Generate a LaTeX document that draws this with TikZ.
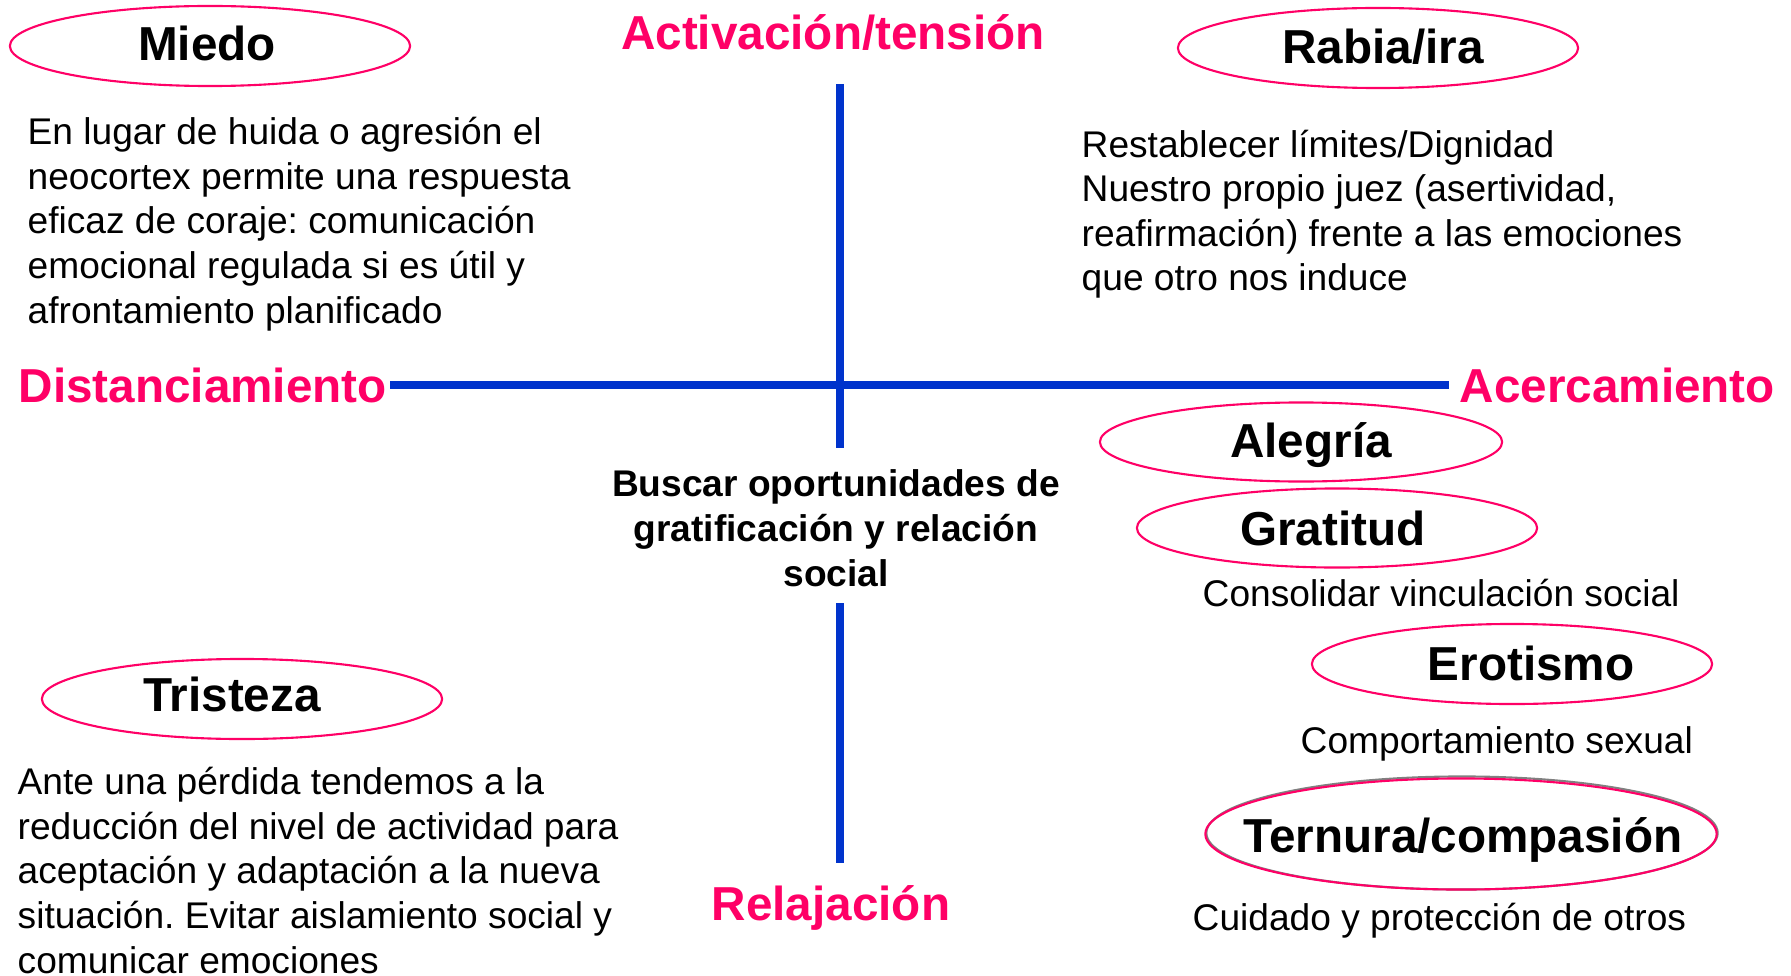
\documentclass[tikz,border=0pt]{standalone}
\usepackage{fontspec}
\setmainfont{Liberation Sans}
\usepackage{tikz}
\usetikzlibrary{shapes.geometric}
\definecolor{emopink}{RGB}{255,0,102}
\definecolor{axisblue}{RGB}{0,51,204}
\definecolor{shadowgray}{RGB}{128,128,128}
\frenchspacing

\begin{document}
\begin{tikzpicture}[x=0.01cm,y=-0.01cm,
  emo/.style={draw=emopink,line width=0.6pt,ellipse,inner sep=0pt,minimum width=4cm,minimum height=0.8cm},
  emolabel/.style={anchor=base,inner sep=0pt,font=\fontsize{13.55}{16}\selectfont\bfseries},
  axislabel/.style={inner sep=0pt,text=emopink,font=\fontsize{13.55}{16}\selectfont\bfseries},
  body/.style={inner sep=0pt,align=left,anchor=base west,font=\fontsize{10.56}{12.66}\selectfont\frenchspacing},
  haxis/.style={axisblue,line width=2.3pt},
  vaxis/.style={axisblue,line width=2pt}]
  \useasboundingbox (0,0) rectangle (1791,976);

  \node[axislabel,anchor=base] (act) at (833,50) {Activación/tensión};
  \node[axislabel,anchor=base west] (dist) at (18,402) {Distanciamiento};
  \node[axislabel,anchor=base west] (acer) at (1459,402) {Acercamiento};
  \node[axislabel,anchor=base] (rel) at (831,920) {Relajación};
  \node[body,align=center,anchor=base,font=\fontsize{10.56}{12.66}\selectfont\bfseries] (buscar) at (836,586) {Buscar oportunidades de\\ gratificación y relación\\ social};

  \coordinate (vtop) at (840,84);
  \coordinate (vup) at (840,448);
  \coordinate (vdown) at (840,603);
  \coordinate (vbot) at (840,863);
  \draw[haxis,shorten <=0.03cm,shorten >=0.1cm] (dist.east) -- (acer.west);
  \draw[vaxis] (vtop) -- (vup);
  \draw[vaxis] (vdown) -- (vbot);

  \node[emo] (miedo) at (210,46) {};
  \node[emolabel] (miedoT) at (207,61) {Miedo};
  \node[body] (miedoB) at (27,323) {En lugar de huida o agresión el\\ neocortex permite una respuesta\\ eficaz de coraje: comunicación\\ emocional regulada si es útil y\\ afrontamiento planificado};

  \node[emo] (rabia) at (1378,48) {};
  \node[emolabel] (rabiaT) at (1383,64) {Rabia/ira};
  \node[body] (rabiaB) at (1081,291) {Restablecer límites/Dignidad\\ Nuestro propio juez (asertividad,\\ reafirmación) frente a las emociones\\ que otro nos induce};

  \node[emo,minimum width=4.02cm,minimum height=0.79cm] (alegria) at (1301,442) {};
  \node[emolabel] (alegriaT) at (1311,457) {Alegría};

  \node[emo,minimum height=0.79cm] (gratitud) at (1337,528) {};
  \node[emolabel] (gratitudT) at (1333,545) {Gratitud};
  \node[body] (gratitudB) at (1202,606) {Consolidar vinculación social};

  \node[emo] (erotismo) at (1512,664) {};
  \node[emolabel] (erotismoT) at (1531,680) {Erotismo};
  \node[body] (erotismoB) at (1300,753) {Comportamiento sexual};

  \node[emo,draw=shadowgray,minimum width=5.11cm,minimum height=1.13cm] (ternuraS) at (1462,833) {};
  \node[emo,minimum width=5.11cm,minimum height=1.11cm] (ternura) at (1461,834) {};
  \node[emolabel] (ternuraT) at (1463,852) {Ternura/compasión};
  \node[body] (ternuraB) at (1192,930) {Cuidado y protección de otros};

  \node[emo] (tristeza) at (242,699) {};
  \node[emolabel] (tristezaT) at (232,711) {Tristeza};
  \node[body] (tristezaB) at (17,973) {Ante una pérdida tendemos a la\\ reducción del nivel de actividad para\\ aceptación y adaptación a la nueva\\ situación. Evitar aislamiento social y\\ comunicar emociones};
\end{tikzpicture}
\end{document}
